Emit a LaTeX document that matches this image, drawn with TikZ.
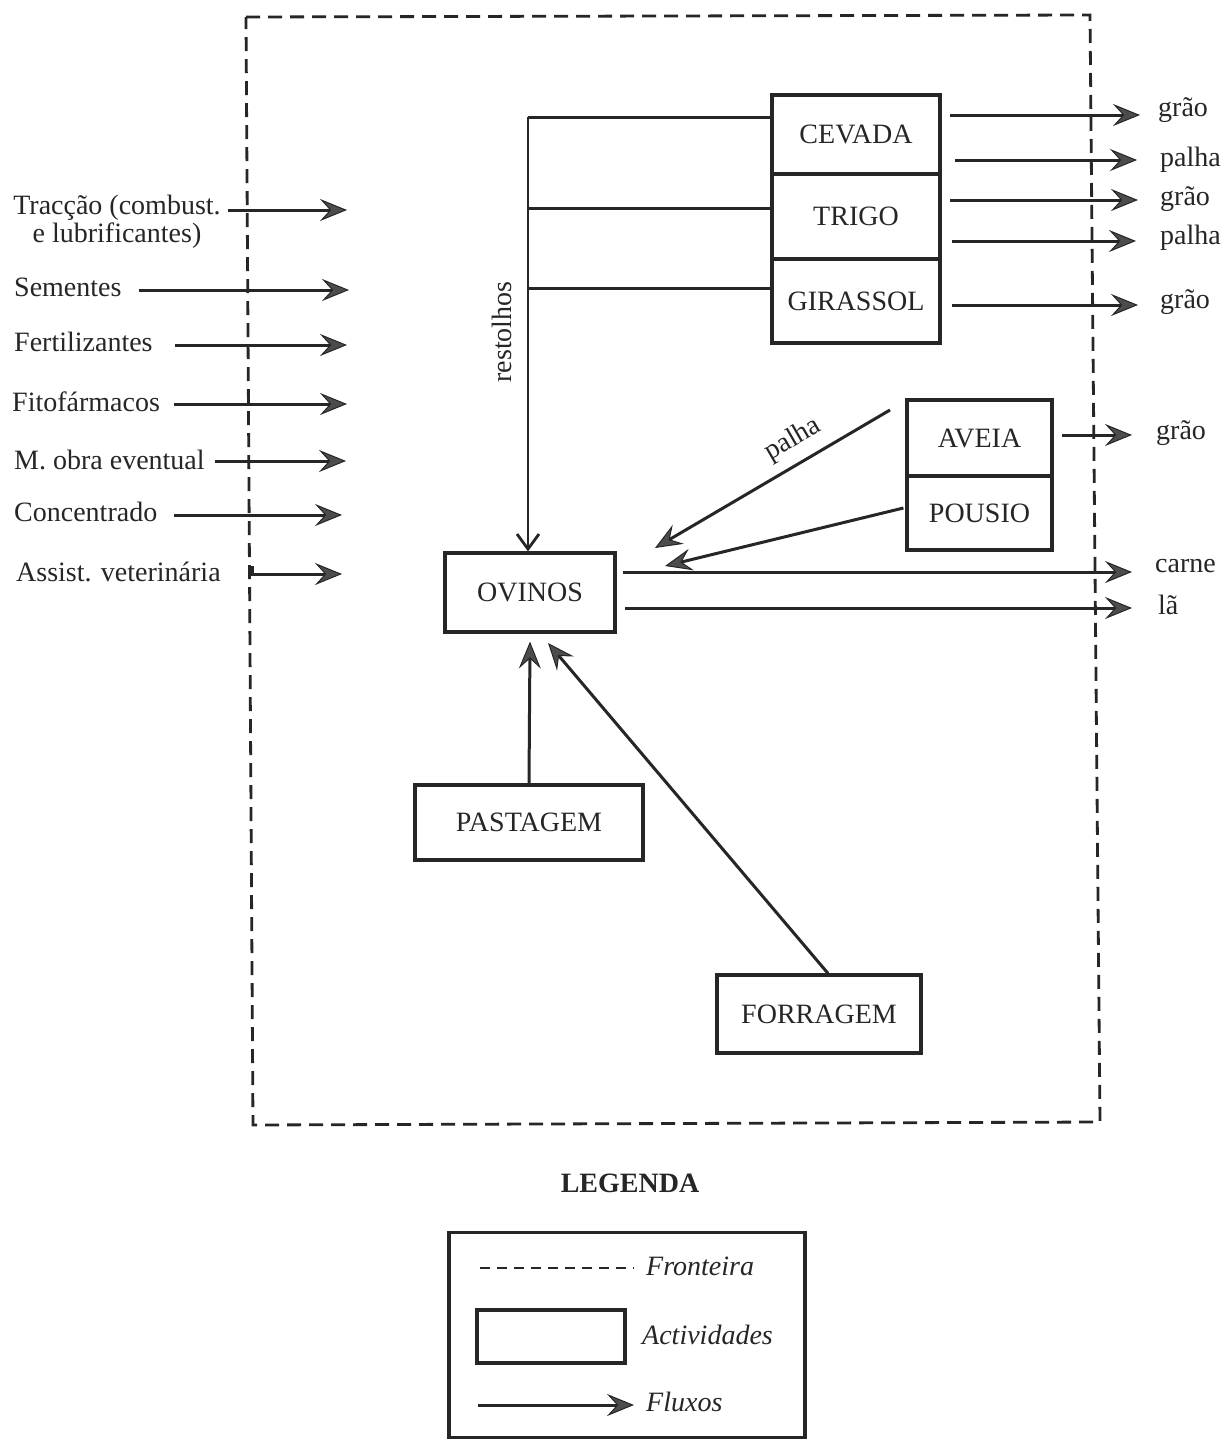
\documentclass[tikz,border=0pt]{standalone}
\usepackage{fontspec}
\setmainfont{Liberation Serif}
\usetikzlibrary{arrows.meta,calc}
\newcommand\dfont{\fontsize{28}{28}\selectfont}
\begin{document}
\begin{tikzpicture}[x=1pt,y=-1pt,
  box/.style={draw=black!85, line width=3.2pt, inner sep=0pt, font=\dfont, text=black!85},
  flow/.style={draw=black!85, line width=3pt, -{Stealth[length=27pt,width=22pt,inset=10pt,line width=1pt,fill=black!70]}},
  plain/.style={draw=black!85, line width=3pt},
  bound/.style={draw=black!85, line width=2.8pt, dash pattern=on 14pt off 8pt},
  lbl/.style={font=\dfont, text=black!85, inner sep=0pt},
]
\useasboundingbox (0,0) rectangle (1224,1440);
\fill[white] (0,0) rectangle (1224,1440);

% boundary
\draw[bound] (246,17) -- (1090,15) -- (1100,1122) -- (253,1125) -- cycle;

% activity boxes
\node[box, minimum width=168pt, minimum height=79pt] (cev) at (856,134.5) {CEVADA};
\node[box, minimum width=168pt, minimum height=85pt] (tri) at (856,216.5) {TRIGO};
\node[box, minimum width=168pt, minimum height=84pt] (gir) at (856,301) {GIRASSOL};
\node[box, minimum width=145pt, minimum height=76pt] (ave) at (979.5,438) {AVEIA};
\node[box, minimum width=145pt, minimum height=74pt] (pou) at (979.5,513) {POUSIO};
\node[box, minimum width=170pt, minimum height=79pt] (ov) at (530,592.5) {OVINOS};
\node[box, minimum width=228pt, minimum height=75pt] (pas) at (529,822.5) {PASTAGEM};
\node[box, minimum width=204pt, minimum height=78pt] (for) at (819,1014) {FORRAGEM};

% inputs
\node[lbl, align=center] (trac) at (117,222) {Tracção (combust.\\ e lubrificantes)};
\node[lbl, anchor=west] (sem) at (14,287) {Sementes};
\node[lbl, anchor=west] (fer) at (14,342) {Fertilizantes};
\node[lbl, anchor=west] (fit) at (12,402) {Fitofármacos};
\node[lbl, anchor=west] (mob) at (14,460) {M. obra eventual};
\node[lbl, anchor=west] (con) at (14,512) {Concentrado};
\node[lbl, anchor=west] (ass) at (16,572) {Assist. veterinária};

\coordinate (i1s) at (228,210); \coordinate (i1e) at (347,210);
\coordinate (i2e) at (349,290);
\coordinate (i3e) at (347,345);
\coordinate (i4e) at (347,404);
\coordinate (i5e) at (346,461);
\coordinate (i6e) at (342,515);
\coordinate (i7s) at (252,566); \coordinate (i7e) at (342,574);

\draw[flow] (i1s) -- (i1e);
\draw[flow] ([xshift=17pt]sem.east |- i2e) -- (i2e);
\draw[flow] ([xshift=22pt]fer.east |- i3e) -- (i3e);
\draw[flow] ([xshift=14pt]fit.east |- i4e) -- (i4e);
\draw[flow] ([xshift=10pt]mob.east |- i5e) -- (i5e);
\draw[flow] ([xshift=17pt]con.east |- i6e) -- (i6e);
\draw[flow] (i7s) -- (i7s |- i7e) -- (i7e);

% outputs
\node[lbl, anchor=west] (g1) at (1158,110) {grão};
\node[lbl, anchor=west] (p1) at (1160,160) {palha};
\node[lbl, anchor=west] (g2) at (1160,199) {grão};
\node[lbl, anchor=west] (p2) at (1160,238) {palha};
\node[lbl, anchor=west] (g3) at (1160,302) {grão};
\node[lbl, anchor=west] (g4) at (1156,433) {grão};
\node[lbl, anchor=west] (car) at (1155,566) {carne};
\node[lbl, anchor=west] (la) at (1158,605) {lã};

\coordinate (o1) at (950,115);  \coordinate (o1e) at (1140,115);
\coordinate (o2) at (955,160);  \coordinate (o2e) at (1137,160);
\coordinate (o3) at (950,200);  \coordinate (o3e) at (1138,200);
\coordinate (o4) at (952,241);  \coordinate (o4e) at (1136,241);
\coordinate (o5) at (952,305);  \coordinate (o5e) at (1138,305);
\coordinate (o6) at (1062,435); \coordinate (o6e) at (1132,435);
\coordinate (o7) at (623,572);  \coordinate (o7e) at (1132,572);
\coordinate (o8) at (625,608);  \coordinate (o8e) at (1132,608);
\foreach \a/\b in {o1/o1e,o2/o2e,o3/o3e,o4/o4e,o5/o5e,o6/o6e,o7/o7e,o8/o8e}
  \draw[flow] (\a) -- (\b);

% restolhos
\coordinate (r1) at (528,117);
\coordinate (r2) at (528,208);
\coordinate (r3) at (528,288);
\draw[plain] (cev.west |- r1) -- (r1);
\draw[plain] (tri.west |- r2) -- (r2);
\draw[plain] (gir.west |- r3) -- (r3);
\draw[draw=black!85, line width=2.6pt, -{Straight Barb[length=15pt,width=22pt,line width=2.8pt]}] (r1) -- (r1 |- ov.north);
\node[lbl, rotate=90] at (502,332) {restolhos};

% palha from AVEIA, flow from POUSIO
\coordinate (pa1) at (890,410); \coordinate (pa2) at (655,548);
\draw[flow] (pa1) -- (pa2);
\node[lbl, rotate=30] at (793,440) {palha};
\coordinate (pu2) at (665,566);
\draw[flow] ([xshift=-2pt,yshift=5pt]pou.west) -- (pu2);

% pastagem, forragem
\draw[flow] (pas.north) -- ([yshift=-8pt]ov.south);
\coordinate (fo2) at (548,643);
\draw[flow] ([xshift=9pt]for.north) -- (fo2);

% legend
\node[font=\bfseries\dfont, text=black!85, inner sep=0pt] (leg) at (630,1183) {LEGENDA};
\node[draw=black!85, line width=3.4pt, minimum width=356pt, minimum height=205pt, inner sep=0pt] (legbox) at (627,1335) {};
\coordinate (lf1) at (480,1268); \coordinate (lf2) at (634,1268);
\draw[bound, dash pattern=on 10pt off 7pt] (lf1) -- (lf2);
\node[lbl, anchor=west, font=\itshape\dfont] (lfr) at (646,1266) {Fronteira};
\node[box, minimum width=148pt, minimum height=53pt] (lact) at (551,1336.5) {};
\node[lbl, anchor=west, font=\itshape\dfont] (lac) at (642,1335) {Actividades};
\coordinate (lx1) at (478,1405);
\node[lbl, anchor=west, font=\itshape\dfont] (lfl) at (646,1402) {Fluxos};
\draw[flow] (lx1) -- ([xshift=-12pt]lfl.west |- lx1);
\end{tikzpicture}
\end{document}
